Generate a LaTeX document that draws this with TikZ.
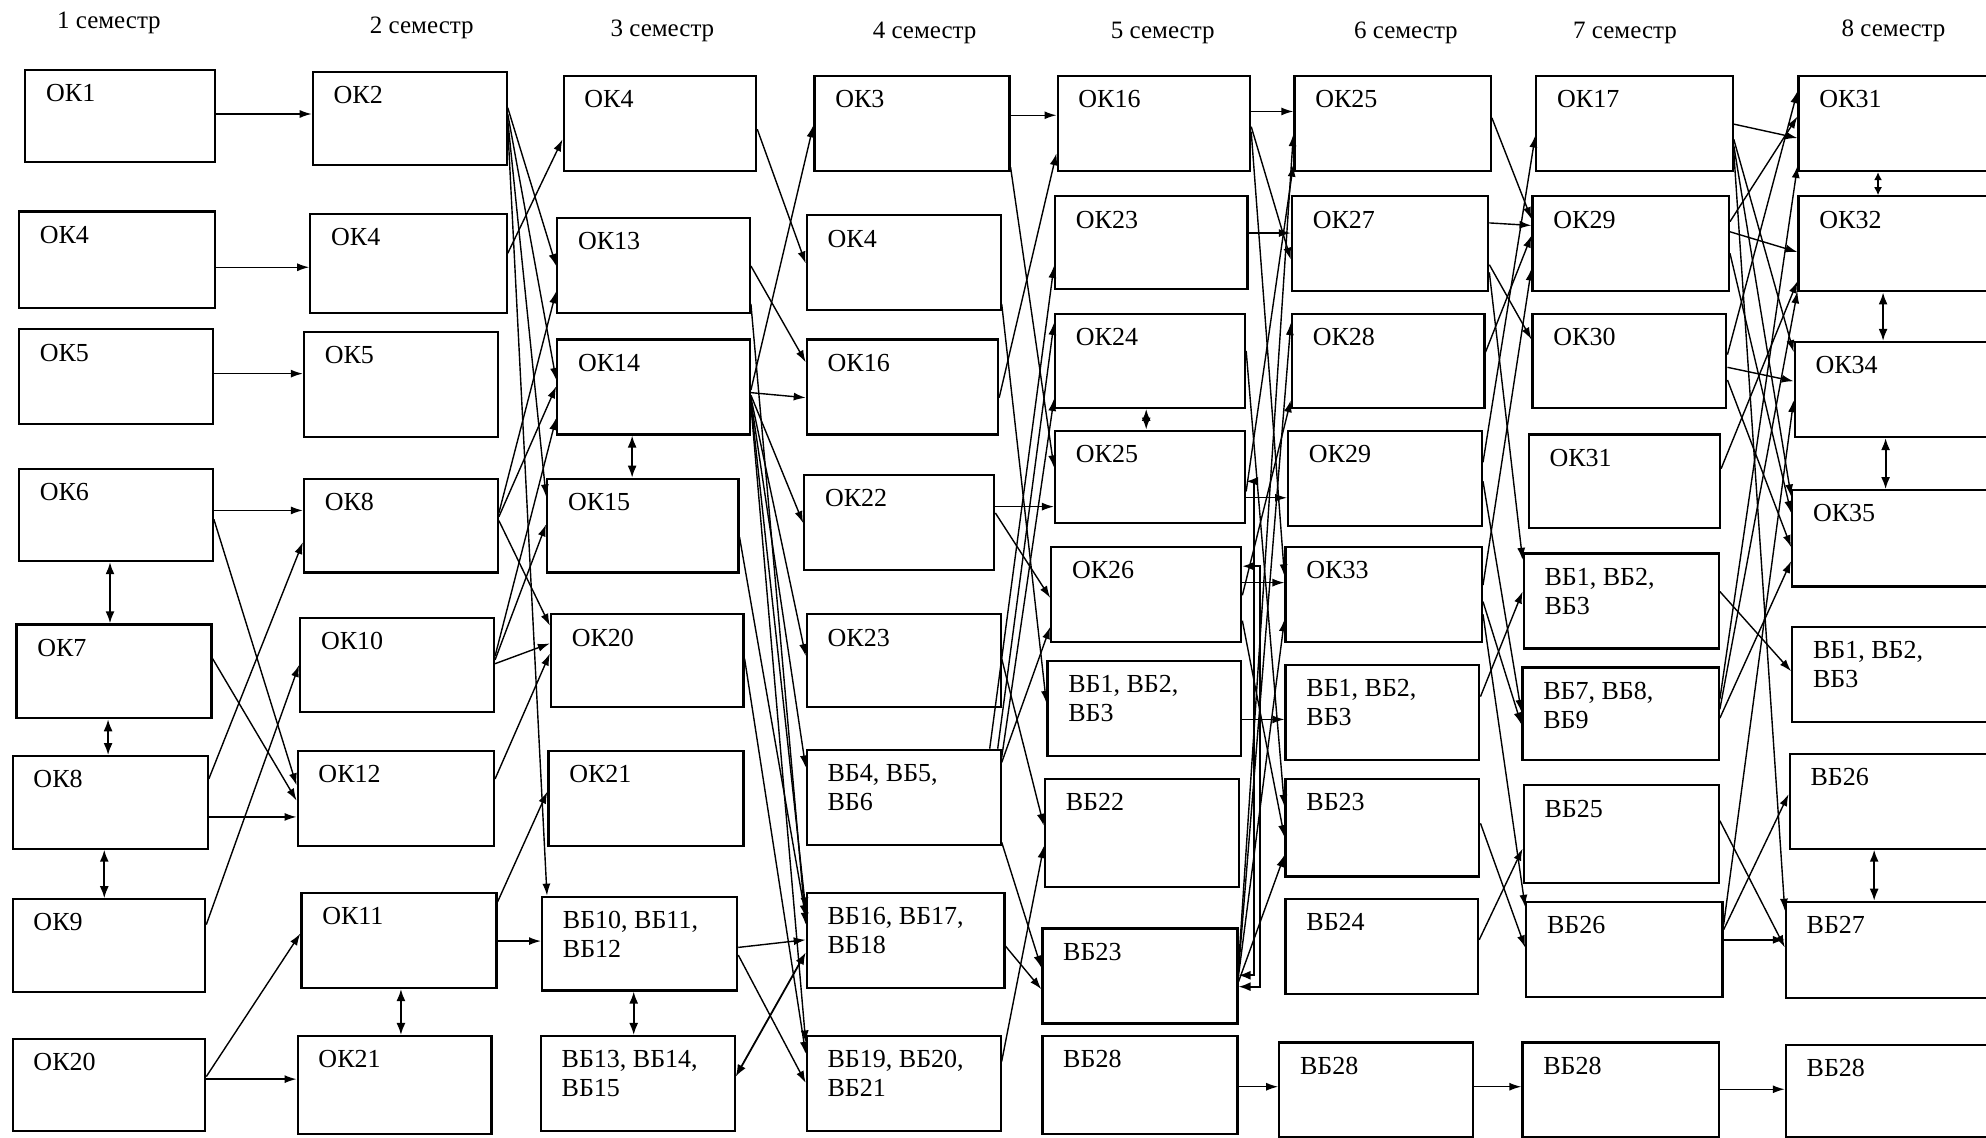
\documentclass[tikz,border=0pt]{standalone}
\usepackage{fontspec}
\setmainfont{Liberation Serif}
\usetikzlibrary{arrows.meta,fit,calc}
\newcommand\bx[6]{\node[box,fit={(#2,#3) (#4,#5)}] (#1) {};\node[lbl] (#1t) at ([shift={(17,12)}]#1.north west) {#6};}
\newcommand\ed[4]{\draw[ar] (#1.east |- 0,#2) -- (#3.west |- 0,#4);}
\newcommand\dv[4][]{\path ($(#2.south west)!#4!(#2.south east)$) coordinate (#2-#3); \draw[dar,#1] (#2-#3) -- (#2-#3 |- #3.north);}
\begin{document}
\begin{tikzpicture}[x=0.6333pt,y=-0.6333pt,
  box/.style={draw,line width=1.1pt,inner sep=0pt},
  lbl/.style={anchor=north west,inner sep=0pt,align=left,font=\fontsize{13}{14.5}\selectfont},
  hdr/.style={font=\fontsize{12.5}{14}\selectfont,inner sep=0pt},
  ar/.style={line width=0.7pt,-{Latex[length=6pt,width=4pt]}},
  dar/.style={line width=0.9pt,{Latex[length=6pt,width=4.5pt]}-{Latex[length=6pt,width=4.5pt]}},
  smalldar/.style={{Latex[length=4pt,width=4pt]}-{Latex[length=4pt,width=4pt]}}]
\useasboundingbox (0,0) rectangle (1568,898);
\clip (0,0) rectangle (1568,898);
% headers
\node[hdr] (h1) at (86,18) {1 семестр};
\node[hdr] (h2) at (333,22) {2 семестр};
\node[hdr] (h3) at (523,24) {3 семестр};
\node[hdr] (h4) at (730,26) {4 семестр};
\node[hdr] (h5) at (918,26) {5 семестр};
\node[hdr] (h6) at (1110,26) {6 семестр};
\node[hdr] (h7) at (1283,26) {7 семестр};
\node[hdr] (h8) at (1495,24) {8 семестр};
% column 1
\bx{c1a}{20}{55}{170}{128}{ОК1}
\bx{c1b}{15}{167}{170}{243}{ОК4}
\bx{c1c}{15}{260}{168}{335}{ОК5}
\bx{c1d}{15}{370}{168}{443}{ОК6}
\bx{c1e}{13}{493}{167}{567}{ОК7}
\bx{c1f}{10}{597}{164}{670}{ОК8}
\bx{c1g}{10}{710}{162}{783}{ОК9}
\bx{c1h}{10}{820}{162}{893}{ОК20}
% column 2
\bx{c2a}{247}{57}{400}{130}{ОК2}
\bx{c2b}{245}{169}{400}{247}{ОК4}
\bx{c2c}{240}{262}{393}{345}{ОК5}
\bx{c2d}{240}{378}{393}{452}{ОК8}
\bx{c2e}{237}{488}{390}{562}{ОК10}
\bx{c2f}{235}{593}{390}{668}{ОК12}
\bx{c2g}{238}{705}{392}{780}{ОК11}
\bx{c2h}{235}{818}{388}{895}{ОК21}
% column 3
\bx{c3a}{445}{60}{597}{135}{ОК4}
\bx{c3b}{440}{172}{592}{247}{ОК13}
\bx{c3c}{440}{268}{592}{343}{ОК14}
\bx{c3d}{432}{378}{583}{452}{ОК15}
\bx{c3e}{435}{485}{587}{558}{ОК20}
\bx{c3f}{433}{593}{587}{668}{ОК21}
\bx{c3g}{428}{708}{582}{782}{ВБ10, ВБ11,\\ВБ12}
\bx{c3h}{427}{818}{580}{893}{ВБ13, ВБ14,\\ВБ15}
% column 4
\bx{c4a}{643}{60}{797}{135}{ОК3}
\bx{c4b}{637}{170}{790}{245}{ОК4}
\bx{c4c}{637}{268}{788}{343}{ОК16}
\bx{c4d}{635}{375}{785}{450}{ОК22}
\bx{c4e}{637}{485}{790}{558}{ОК23}
\bx{c4f}{637}{592}{790}{667}{ВБ4, ВБ5,\\ВБ6}
\bx{c4g}{637}{705}{793}{780}{ВБ16, ВБ17,\\ВБ18}
\bx{c4h}{637}{818}{790}{893}{ВБ19, ВБ20,\\ВБ21}
% column 5
\bx{c5a}{835}{60}{987}{135}{ОК16}
\bx{c5b}{833}{155}{985}{228}{ОК23}
\bx{c5c}{833}{248}{983}{322}{ОК24}
\bx{c5d}{833}{340}{983}{413}{ОК25}
\bx{c5e}{830}{432}{980}{507}{ОК26}
\bx{c5f}{827}{522}{980}{597}{ВБ1, ВБ2,\\ВБ3}
\bx{c5g}{825}{615}{978}{700}{ВБ22}
\bx{c5h}{823}{733}{977}{808}{ВБ23}
\bx{c5i}{823}{818}{977}{895}{ВБ28}
% column 6
\bx{c6a}{1022}{60}{1177}{135}{ОК25}
\bx{c6b}{1020}{155}{1175}{230}{ОК27}
\bx{c6c}{1020}{248}{1172}{322}{ОК28}
\bx{c6d}{1017}{340}{1170}{415}{ОК29}
\bx{c6e}{1015}{432}{1170}{507}{ОК33}
\bx{c6f}{1015}{525}{1168}{600}{ВБ1, ВБ2,\\ВБ3}
\bx{c6g}{1015}{615}{1168}{692}{ВБ23}
\bx{c6h}{1015}{710}{1167}{785}{ВБ24}
\bx{c6i}{1010}{823}{1163}{898}{ВБ28}
% column 7
\bx{c7a}{1213}{60}{1368}{135}{ОК17}
\bx{c7b}{1210}{155}{1365}{230}{ОК29}
\bx{c7c}{1210}{248}{1363}{322}{ОК30}
\bx{c7d}{1207}{343}{1358}{417}{ОК31}
\bx{c7e}{1203}{437}{1357}{512}{ВБ1, ВБ2,\\ВБ3}
\bx{c7f}{1202}{527}{1357}{600}{ВБ7, ВБ8,\\ВБ9}
\bx{c7g}{1203}{620}{1357}{697}{ВБ25}
\bx{c7h}{1205}{712}{1360}{787}{ВБ26}
\bx{c7i}{1202}{823}{1357}{898}{ВБ28}
% column 8
\bx{c8a}{1420}{60}{1600}{135}{ОК31}
\bx{c8b}{1420}{155}{1600}{230}{ОК32}
\bx{c8c}{1417}{270}{1600}{345}{ОК34}
\bx{c8d}{1415}{387}{1600}{463}{ОК35}
\bx{c8e}{1415}{495}{1600}{570}{ВБ1, ВБ2,\\ВБ3}
\bx{c8f}{1413}{595}{1600}{670}{ВБ26}
\bx{c8g}{1410}{712}{1600}{788}{ВБ27}
\bx{c8h}{1410}{825}{1600}{898}{ВБ28}
% gap 1-2
\ed{c1a}{90}{c2a}{90}
\ed{c1b}{211}{c2b}{211}
\ed{c1c}{295}{c2c}{295}
\ed{c1d}{403}{c2d}{403}
\ed{c1d}{410}{c2f}{620}
\ed{c1e}{520}{c2f}{632}
\ed{c1f}{615}{c2d}{428}
\ed{c1f}{645}{c2f}{645}
\ed{c1g}{730}{c2e}{525}
\ed{c1h}{850}{c2g}{737}
\ed{c1h}{852}{c2h}{852}
\dv{c1d}{c1e}{0.47}
\dv{c1e}{c1f}{0.47}
\dv{c1f}{c1g}{0.47}
% gap 2-3
\ed{c2a}{85}{c3b}{210}
\ed{c2a}{90}{c3c}{300}
\ed{c2a}{95}{c3d}{392}
\draw[ar] (c2a.east |- 0,100) -- ([xshift=3pt]c3g.north west);
\ed{c2b}{200}{c3a}{110}
\ed{c2d}{405}{c3b}{230}
\ed{c2d}{408}{c3c}{305}
\ed{c2d}{411}{c3e}{494}
\ed{c2e}{518}{c3c}{330}
\ed{c2e}{521}{c3d}{414}
\ed{c2e}{524}{c3e}{508}
\ed{c2f}{615}{c3e}{516}
\ed{c2g}{712}{c3f}{625}
\ed{c2g}{743}{c3g}{743}
\dv{c3c}{c3d}{0.39}
\dv{c2g}{c2h}{0.51}
\dv{c3g}{c3h}{0.47}
% gap 3-4
\ed{c3a}{102}{c4b}{208}
\ed{c3c}{308}{c4a}{99}
\ed{c3b}{210}{c4c}{286}
\ed{c3c}{310}{c4c}{314}
\ed{c3c}{312}{c4d}{413}
\ed{c3c}{314}{c4e}{518}
\ed{c3c}{316}{c4f}{606}
\ed{c3c}{318}{c4g}{718}
\ed{c3c}{320}{c4h}{823}
\ed{c3b}{240}{c4g}{730}
\ed{c3d}{424}{c4g}{724}
\ed{c3e}{520}{c4h}{832}
\ed{c3g}{748}{c4g}{742}
\ed{c3g}{754}{c4h}{855}
\draw[dar] (c3h.east |- 0,850) -- (c4g.west |- 0,752);
% gap 4-5
\ed{c4a}{91}{c5a}{91}
\ed{c4a}{132}{c5d}{369}
\ed{c4c}{314}{c5a}{121}
\draw[ar] ([xshift=-6pt]c4f.north east) -- (c5b.west |- 0,210);
\draw[ar] ([xshift=-2pt]c4f.north east) -- (c5c.west |- 0,255);
\ed{c4f}{598}{c5c}{315}
\ed{c4f}{602}{c5e}{495}
\ed{c4d}{400}{c5d}{400}
\ed{c4d}{405}{c5e}{472}
\ed{c4b}{240}{c5f}{555}
\ed{c4e}{520}{c5g}{652}
\ed{c4h}{838}{c5g}{668}
\ed{c4f}{665}{c5h}{764}
\ed{c4g}{747}{c5h}{781}
\dv{c5c}{c5d}{0.48}
% gap 5-6
\ed{c5a}{88}{c6a}{88}
\ed{c5a}{100}{c6b}{205}
\ed{c5a}{104}{c6e}{455}
\ed{c5b}{184}{c6b}{184}
\ed{c5h}{762}{c6a}{106}
\ed{c5d}{388}{c6a}{130}
\ed{c5h}{766}{c6c}{255}
\ed{c5e}{470}{c6c}{316}
\ed{c5d}{393}{c6d}{393}
\ed{c5e}{460}{c6e}{460}
\ed{c5h}{770}{c6e}{489}
\ed{c5f}{568}{c6f}{568}
\ed{c5c}{277}{c6g}{637}
\ed{c5e}{490}{c6g}{661}
\ed{c5h}{775}{c6g}{675}
\ed{c5i}{858}{c6i}{858}
\draw[dar] (c5d.east |- 0,380) -- ++(6,0) |- (c5h.east |- 0,770);
\draw[dar] (c5e.east |- 0,447) -- ++(14,0) |- (c5h.east |- 0,779);
% gap 6-7
\ed{c6a}{93}{c7b}{173}
\ed{c6b}{176}{c7b}{178}
\ed{c6c}{278}{c7b}{186}
\ed{c6e}{462}{c7b}{212}
\ed{c6d}{365}{c7a}{107}
\ed{c6b}{209}{c7c}{268}
\ed{c6b}{215}{c7e}{442}
\ed{c6f}{550}{c7e}{467}
\ed{c6d}{380}{c7f}{562}
\ed{c6e}{475}{c7f}{572}
\ed{c6h}{742}{c7g}{670}
\ed{c6e}{485}{c7h}{716}
\ed{c6g}{650}{c7h}{748}
\ed{c6i}{858}{c7i}{858}
% gap 7-8
\ed{c7a}{98}{c8a}{109}
\ed{c7b}{175}{c8a}{92}
\ed{c7c}{280}{c8a}{72}
\ed{c7f}{552}{c8a}{131}
\ed{c7b}{183}{c8b}{199}
\ed{c7d}{370}{c8b}{222}
\ed{c7f}{560}{c8b}{230}
\ed{c7a}{110}{c8c}{278}
\ed{c7c}{290}{c8c}{301}
\ed{c7h}{730}{c8c}{316}
\ed{c7a}{115}{c8d}{392}
\ed{c7b}{200}{c8d}{405}
\ed{c7c}{300}{c8d}{432}
\ed{c7f}{567}{c8d}{443}
\ed{c7e}{467}{c8e}{530}
\ed{c7h}{734}{c8f}{627}
\ed{c7a}{120}{c8g}{719}
\ed{c7g}{648}{c8g}{748}
\ed{c7h}{742}{c8g}{742}
\ed{c7i}{860}{c8h}{860}
\dv[smalldar]{c8a}{c8b}{0.35}
\dv{c8b}{c8c}{0.372}
\dv{c8c}{c8d}{0.393}
\dv{c8f}{c8g}{0.358}
\end{tikzpicture}
\end{document}
